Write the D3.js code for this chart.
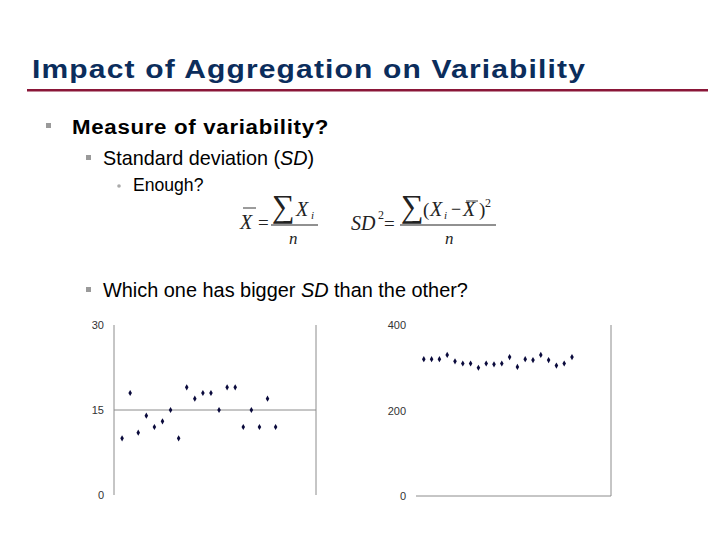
<!DOCTYPE html>
<html>
<head>
  <style>
    body {
      margin: 0;
      background: #fff;
    }
    text {
      font-family: "Liberation Sans", Arial, sans-serif;
    }
    .math {
      font-family: "Liberation Serif", "Times New Roman", serif;
    }
    .tick text {
      font-size: 11px;
      fill: #333;
    }
  </style>
</head>
<body>
  <script src="https://d3js.org/d3.v7.min.js"></script>
  <script>
    var leftValues = [10, 18, 11, 14, 12, 13, 15, 10, 19, 17, 18, 18, 15, 19, 19, 12, 15, 12, 17, 12];
    var rightValues = [320, 320, 320, 330, 315, 310, 310, 300, 310, 308, 310, 325, 302, 320, 318, 330, 318, 305, 310, 325];
    var leftTicks = [0, 15, 30];
    var rightTicks = [0, 200, 400];
    var xDomain = [0, 25];

    var width = 720, height = 540;
    var svg = d3.select("body").append("svg")
        .attr("width", width)
        .attr("height", height);

    // title + rule
    svg.append("text")
        .attr("x", 32).attr("y", 78)
        .attr("textLength", 554).attr("lengthAdjust", "spacingAndGlyphs")
        .style("font-size", "26px").style("font-weight", "bold")
        .style("letter-spacing", "1px")
        .style("fill", "#0b2d5c")
        .text("Impact of Aggregation on Variability");

    svg.append("rect")
        .attr("x", 27).attr("y", 89).attr("width", 681).attr("height", 2.5)
        .attr("fill", "#8a1638");

    // bullet list
    function square(x, y, s) {
      svg.append("rect").attr("x", x).attr("y", y).attr("width", s).attr("height", s).attr("fill", "#9a9a9a");
    }

    square(46, 123, 5);
    svg.append("text")
        .attr("x", 72).attr("y", 134)
        .attr("textLength", 257).attr("lengthAdjust", "spacingAndGlyphs")
        .style("font-size", "20px").style("font-weight", "bold")
        .style("letter-spacing", "0.6px")
        .text("Measure of variability?");

    square(86, 155, 5);
    svg.append("text")
        .attr("x", 103).attr("y", 165)
        .style("font-size", "19.8px")
        .html("Standard deviation (<tspan font-style='italic'>SD</tspan>)");

    svg.append("circle").attr("cx", 119).attr("cy", 186).attr("r", 1.8).attr("fill", "#aaa");
    svg.append("text")
        .attr("x", 133).attr("y", 191)
        .style("font-size", "17.6px")
        .text("Enough?");

    square(86, 287, 5);
    svg.append("text")
        .attr("x", 103).attr("y", 297)
        .style("font-size", "19.9px")
        .html("Which one has bigger <tspan font-style='italic'>SD</tspan> than the other?");

    // formulas
    var f = svg.append("g").style("font-style", "italic").style("fill", "#222");
    function mt(x, y, s, str, opts) {
      var t = f.append("text").attr("class", "math").attr("x", x).attr("y", y).style("font-size", s + "px").text(str);
      if (opts && opts.normal) t.style("font-style", "normal");
      return t;
    }
    function hline(x1, x2, y, w) {
      f.append("line").attr("x1", x1).attr("x2", x2).attr("y1", y).attr("y2", y)
          .attr("stroke", "#222").attr("stroke-width", w || 1);
    }

    mt(240, 229, 20, "X");
    hline(243, 256, 208, 0.9);
    mt(258, 229, 19, "=", {normal: true});
    hline(271, 318, 225, 1);
    mt(272, 217, 32, "\u2211", {normal: true});
    mt(296, 216, 20, "X");
    mt(311, 219, 11, "i");
    mt(289, 244, 17, "n");

    mt(351, 230, 20, "SD");
    mt(378, 219, 12, "2", {normal: true});
    mt(384, 230, 19, "=", {normal: true});
    hline(400, 496, 225, 1);
    mt(401, 217, 32, "\u2211", {normal: true});
    mt(423, 216, 19, "(", {normal: true});
    mt(430, 216, 20, "X");
    mt(444, 219, 11, "i");
    mt(451, 215, 18, "\u2212", {normal: true});
    mt(463, 216, 20, "X");
    hline(466, 478, 201, 0.9);
    mt(479, 216, 19, ")", {normal: true});
    mt(485, 207, 12, "2", {normal: true});
    mt(445, 244, 17, "n");

    // scatter panels
    var lineColor = "#8c8c8c";
    var marker = d3.symbol().type(d3.symbolDiamond).size(11);

    function panel(values, ticks, x0, x1, yTop, yBot, crossAt, showLeft) {
      var x = d3.scaleLinear().domain(xDomain).range([x0, x1]);
      var y = d3.scaleLinear().domain([0, d3.max(ticks)]).range([yBot, yTop]);
      var g = svg.append("g");

      if (showLeft) {
        g.append("line").attr("x1", x0).attr("x2", x0).attr("y1", yTop).attr("y2", yBot).attr("stroke", lineColor);
      }
      g.append("line").attr("x1", x1).attr("x2", x1).attr("y1", yTop).attr("y2", yBot).attr("stroke", lineColor);
      g.append("line").attr("x1", x0).attr("x2", x1).attr("y1", y(crossAt)).attr("y2", y(crossAt)).attr("stroke", lineColor);

      var ax = g.append("g")
          .attr("transform", "translate(" + (x0 - 4) + ",0)")
          .call(d3.axisLeft(y).tickValues(ticks).tickSize(0).tickPadding(6));
      ax.select(".domain").remove();
      ax.selectAll("text").attr("dy", "0.36em");

      g.selectAll("path.pt")
          .data(values)
        .enter().append("path")
          .attr("class", "pt")
          .attr("d", marker)
          .attr("transform", (d, i) => "translate(" + x(i + 1) + "," + y(d) + ")")
          .attr("fill", "#0a0a3c");
    }

    panel(leftValues, leftTicks, 114, 316, 325, 495, 15, true);
    panel(rightValues, rightTicks, 416, 611, 325, 496, 0, false);
  </script>
</body>
</html>
